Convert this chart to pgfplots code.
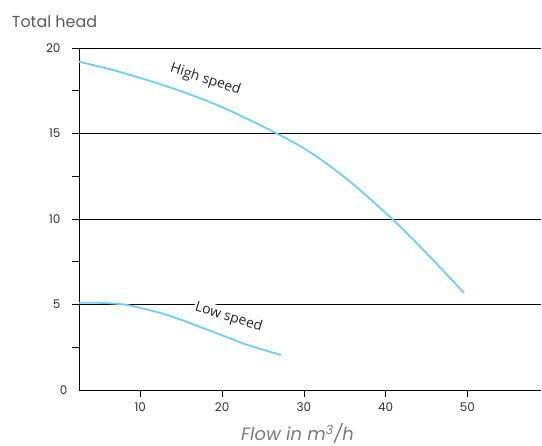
\documentclass[border=0pt]{standalone}
\usepackage{fontspec}
\setmainfont{Poppins}
\newfontfamily\labelfont{Open Sans}
\usepackage{pgfplots}
\pgfplotsset{compat=1.18}
\definecolor{curve}{HTML}{6DCFF3}
\definecolor{titlegray}{HTML}{5A5A5A}
\definecolor{labgray}{HTML}{7A7A7A}
\definecolor{tickgray}{HTML}{333333}
\begin{document}
\begin{tikzpicture}
\begin{axis}[name=ax, at={(0,0)}, anchor=south west,
  scale only axis, width=462bp, height=342bp,
  xmin=2.5, xmax=59, ymin=0, ymax=20,
  axis x line*=bottom, axis y line*=left,
  axis line style={-, black, line width=0.7pt},
  xtick={10,20,30,40,50},
  ytick={5,10,15,20}, minor ytick={2.5,7.5,12.5,17.5},
  extra y ticks={0}, extra y tick style={major tick length=0pt},
  tick align=outside, major tick length=7bp, minor tick length=7bp,
  tick style={black, line width=0.7pt},
  ymajorgrids, grid style={black, line width=0.7pt},
  /pgf/number format/assume math mode=true,
  ticklabel style={font=\fontsize{12}{14}\selectfont, text=tickgray},
  yticklabel style={xshift=-8bp},
  xticklabel style={yshift=-2bp},
  clip=false,
]
\addplot[curve, line width=1.8pt, smooth, tension=0.55] coordinates {
  (2.5,19.2) (7.5,18.6) (13.6,17.7) (19.7,16.6) (26.7,15.0) (31.1,13.8)
  (35.6,12.2) (40.8,10.0) (45.0,8.0) (49.6,5.67)
};
\addplot[curve, line width=1.8pt, smooth, tension=0.55] coordinates {
  (2.5,5.1) (5,5.1) (8,5.0) (10,4.8) (12.5,4.5) (15,4.1) (17.5,3.65)
  (20,3.2) (23,2.65) (27.2,2.05)
};
\node[rotate=-18, font=\labelfont\fontsize{14}{16}\selectfont, text=black!85] at (axis cs:17.96,18.15) {High speed};
\node[rotate=-17, fill=white, inner sep=1.5pt, font=\labelfont\fontsize{14}{16}\selectfont, text=black!85] at (axis cs:20.8,4.25) {Low speed};
\end{axis}
\node[anchor=base west, font=\fontsize{16}{18}\selectfont, text=titlegray, inner sep=0pt] at (-67.3bp,362.3bp) {Total head};
\node[anchor=base, font=\itshape\fontsize{18}{20}\selectfont, text=labgray, inner sep=0pt] at (218.5bp,-50.5bp) {Flow in m\textsuperscript{3}/h};
\pgfresetboundingbox
\path[use as bounding box] (-79bp,-56bp) rectangle (463bp,390bp);
\end{tikzpicture}
\end{document}
